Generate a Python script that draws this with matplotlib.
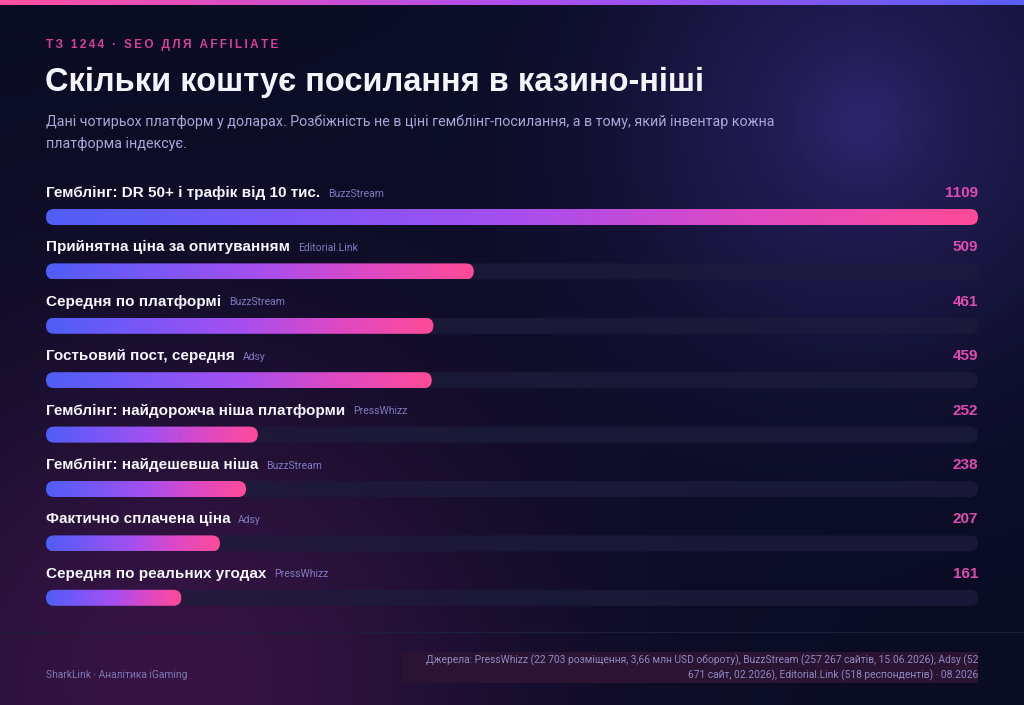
import numpy as np
import matplotlib
matplotlib.use("Agg")
import matplotlib.pyplot as plt
from matplotlib.colors import LinearSegmentedColormap
from matplotlib.patches import FancyBboxPatch, Rectangle

plt.rcParams['font.family'] = ['Liberation Sans', 'DejaVu Sans']

# data
labels = [
    "Гемблінг: DR 50+ і трафік від 10 тис.",
    "Прийнятна ціна за опитуванням",
    "Середня по платформі",
    "Гостьовий пост, середня",
    "Гемблінг: найдорожча ніша платформи",
    "Гемблінг: найдешевша ніша",
    "Фактично сплачена ціна",
    "Середня по реальних угодах",
]
sources = ["BuzzStream", "Editorial.Link", "BuzzStream", "Adsy",
           "PressWhizz", "BuzzStream", "Adsy", "PressWhizz"]
values = [1109, 509, 461, 459, 252, 238, 207, 161]

W, H = 1024, 705
fig = plt.figure(figsize=(W / 100, H / 100), dpi=100)

# background
bg = fig.add_axes([0, 0, 1, 1])
bg.set_xlim(0, W)
bg.set_ylim(H, 0)
bg.axis("off")
yy, xx = np.mgrid[0:H, 0:W]
base = np.array([10, 12, 36], float) / 255
img = np.ones((H, W, 3)) * base
g2 = np.exp(-(((xx - 860) ** 2 + (yy - 120) ** 2) / (2 * 170.0 ** 2)))
img += g2[..., None] * (np.array([36, 30, 88]) / 255 - base)
g1 = np.exp(-(((xx - 863) ** 2 + (yy - 122) ** 2) / (2 * 40.0 ** 2)))
img += g1[..., None] * (np.array([8, 6, 18]) / 255)
g3 = np.exp(-(((xx - 170) ** 2 + (yy - 680) ** 2) / (2 * 230.0 ** 2)))
img += g3[..., None] * (np.array([55, 20, 68]) / 255 - base)
bg.imshow(np.clip(img, 0, 1), extent=(0, W, H, 0), aspect="auto", zorder=0)

# top strip
strip_cmap = LinearSegmentedColormap.from_list("strip", ["#ff4f9f", "#b14ff0", "#5a5ff7"])
bg.imshow(np.linspace(0, 1, 256)[None, :], cmap=strip_cmap, extent=(0, W, 5, 0),
          aspect="auto", zorder=1)

# header texts
tag = "\u2009".join("ТЗ 1244 · SEO ДЛЯ AFFILIATE")
bg.text(46, 45, tag, color="#d8409a", fontsize=8.5, fontweight="bold", va="center")
bg.text(45, 82, "Скільки коштує посилання в казино-ніші", color="#f4f4fb",
        fontsize=23.5, fontweight="bold", va="center")
bg.text(46, 122, "Дані чотирьох платформ у доларах. Розбіжність не в ціні гемблінг-посилання, а в тому, який інвентар кожна",
        color="#a9a6d8", fontsize=10.3, va="center", family=["Roboto", "DejaVu Sans"])
bg.text(46, 144, "платформа індексує.", color="#a9a6d8", fontsize=10.3, va="center",
        family=["Roboto", "DejaVu Sans"])

# footer
bg.plot([0, W], [632, 632], color="#1c1f3c", lw=1, zorder=2)
bg.text(46, 675, "SharkLink · Аналітика iGaming", color="#7d78b4", fontsize=7.4,
        va="center", family=["Roboto", "DejaVu Sans"])
bg.add_patch(Rectangle((402, 652), 576, 31, facecolor="#2b1332", edgecolor="none", zorder=2))
bg.text(978, 660, "Джерела: PressWhizz (22 703 розміщення, 3,66 млн USD обороту), BuzzStream (257 267 сайтів, 15.06.2026), Adsy (52",
        color="#8e89c4", fontsize=7.4, ha="right", va="center", zorder=3,
        family=["Roboto", "DejaVu Sans"])
bg.text(978, 675, "671 сайт, 02.2026), Editorial.Link (518 респондентів) · 08.2026",
        color="#8e89c4", fontsize=7.4, ha="right", va="center", zorder=3,
        family=["Roboto", "DejaVu Sans"])

# bars
x0, x1 = 46, 978
step = 54.4
top_px = 217 - 0.8 * step
bot_px = 217 + 7.6 * step
ax = fig.add_axes([x0 / W, 1 - bot_px / H, (x1 - x0) / W, (bot_px - top_px) / H])
ax.patch.set_alpha(0)
ax.axis("off")
vmax = max(values)
ax.set_xlim(0, vmax)
ax.set_ylim(7.6, -0.8)

px_x = (x1 - x0) / vmax          # pixels per x unit
px_y = step                      # pixels per y unit
half_h = 8 / px_y
radius = 8 / px_x
aspect = px_x / px_y

bar_cmap = LinearSegmentedColormap.from_list(
    "bar", ["#4f5ef7", "#7a57f6", "#a64ff0", "#dc49c4", "#ff4b98"])
grad = np.linspace(0, 1, 256)[None, :]

for i, (lab, src, v) in enumerate(zip(labels, sources, values)):
    track = FancyBboxPatch((0, i - half_h), vmax, 2 * half_h,
                           boxstyle=f"round,pad=0,rounding_size={radius}",
                           mutation_aspect=aspect, facecolor="#1d1c3c",
                           edgecolor="none", alpha=0.75, zorder=1)
    ax.add_patch(track)
    clip = FancyBboxPatch((0, i - half_h), v, 2 * half_h,
                          boxstyle=f"round,pad=0,rounding_size={radius}",
                          mutation_aspect=aspect, facecolor="none",
                          edgecolor="none", zorder=2)
    ax.add_patch(clip)
    im = ax.imshow(grad, cmap=bar_cmap, extent=(0, v, i + half_h, i - half_h),
                   aspect="auto", zorder=2)
    im.set_clip_path(clip)
    t = ax.text(0, i - 24 / step, lab, color="#f5f5fb", fontsize=11,
                fontweight="bold", va="center")
    ax.annotate(src, xy=(1, 0.5), xycoords=t, xytext=(5.5, -0.5),
                textcoords="offset points", color="#7f7bc0", fontsize=7.5,
                va="center", family=["Roboto", "DejaVu Sans"])
    ax.text(vmax, i - 24 / step, f"{v}", color="#e04bb2", fontsize=11,
            fontweight="bold", ha="right", va="center")

fig.savefig("out.png", dpi=100)
